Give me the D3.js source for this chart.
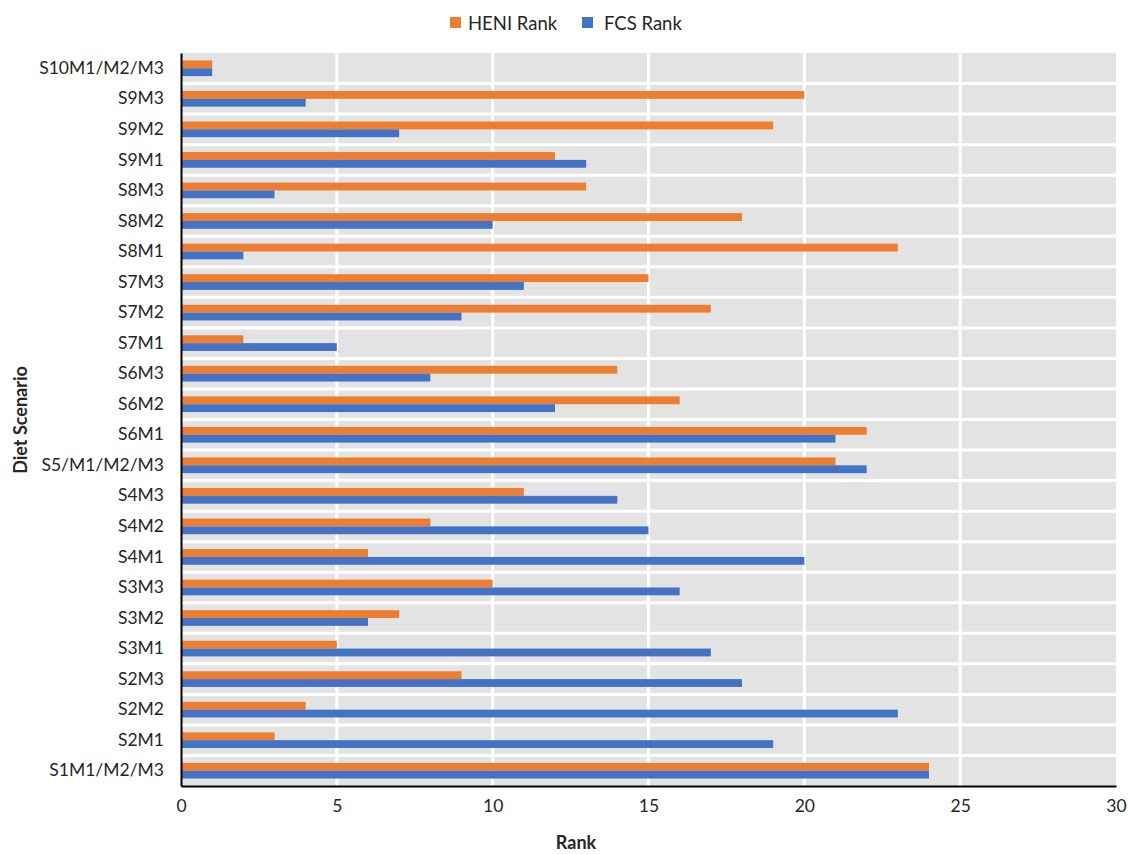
<!DOCTYPE html>
<html><head><meta charset="utf-8">
<script src="https://cdn.jsdelivr.net/npm/d3@7"></script>
<style>body{margin:0;background:#fff}svg{display:block}text{font-family:Lato,"Open Sans",sans-serif;fill:#262626}</style>
</head><body><svg id="c" width="1128" height="854"></svg>
<script>
const categories = ["S10M1/M2/M3","S9M3","S9M2","S9M1","S8M3","S8M2","S8M1","S7M3","S7M2","S7M1","S6M3","S6M2","S6M1","S5/M1/M2/M3","S4M3","S4M2","S4M1","S3M3","S3M2","S3M1","S2M3","S2M2","S2M1","S1M1/M2/M3"];
const heniRank = [1,20,19,12,13,18,23,15,17,2,14,16,22,21,11,8,6,10,7,5,9,4,3,24];
const fcsRank  = [1,4,7,13,3,10,2,11,9,5,8,12,21,22,14,15,20,16,6,17,18,23,19,24];
const seriesNames = ["HENI Rank","FCS Rank"];
const xTicks = [0,5,10,15,20,25,30];

const colors = {"HENI Rank":"#ED7D31","FCS Rank":"#4472C4"};
const svg = d3.select("#c");
const L=181, R=1116, T=53, B=786;
const x = d3.scaleLinear().domain([0,30]).range([L,R]);
const y = d3.scaleBand().domain(categories).range([T,B]).paddingInner(0).paddingOuter(0);
const inner = d3.scaleBand().domain(seriesNames).range([0,y.bandwidth()]).paddingInner(0).paddingOuter(0.95);

svg.append("rect").attr("x",L).attr("y",T).attr("width",R-L).attr("height",B-T).attr("fill","#e3e3e3");
svg.append("g").selectAll("line").data(xTicks.filter(d=>d>0 && d<30)).join("line")
  .attr("x1",d=>x(d)).attr("x2",d=>x(d)).attr("y1",T).attr("y2",B)
  .attr("stroke","#fff").attr("stroke-width",3);
svg.append("g").selectAll("line").data(categories.slice(1)).join("line")
  .attr("x1",L).attr("x2",R).attr("y1",d=>y(d)).attr("y2",d=>y(d))
  .attr("stroke","#fff").attr("stroke-width",3);

const data = categories.map((c,i)=>({c, vals:[{s:"HENI Rank",v:heniRank[i]},{s:"FCS Rank",v:fcsRank[i]}]}));
svg.append("g").selectAll("g").data(data).join("g")
  .attr("transform",d=>`translate(0,${y(d.c)})`)
  .selectAll("rect").data(d=>d.vals).join("rect")
  .attr("x",x(0)).attr("y",d=>inner(d.s)).attr("height",inner.bandwidth())
  .attr("width",d=>x(d.v)-x(0)).attr("fill",d=>colors[d.s]);

const xa = svg.append("g").attr("transform",`translate(0,${B})`)
  .call(d3.axisBottom(x).tickValues(xTicks).tickSize(0).tickPadding(14));
xa.select(".domain").attr("stroke","#000").attr("stroke-width",2);
xa.selectAll("text").attr("font-size",17.5).style("font-family","Lato,sans-serif").attr("fill","#404040");
const ya = svg.append("g").attr("transform",`translate(${L},0)`)
  .call(d3.axisLeft(y).tickSize(0).tickPadding(17));
ya.select(".domain").attr("stroke","#000").attr("stroke-width",2);
ya.selectAll("text").attr("font-size",17.5).style("font-family","Lato,sans-serif").attr("fill","#404040");

svg.append("text").attr("x",576).attr("y",849).attr("text-anchor","middle")
  .attr("font-size",18).attr("font-weight","bold").text("Rank");
svg.append("text").attr("transform",`translate(27,420) rotate(-90)`).attr("text-anchor","middle")
  .attr("font-size",18).attr("font-weight","bold").text("Diet Scenario");

const leg = svg.append("g");
const lx = [450,582];
seriesNames.forEach((s,i)=>{
  leg.append("rect").attr("x",lx[i]).attr("y",17).attr("width",11).attr("height",11).attr("fill",colors[s]);
  leg.append("text").attr("x",lx[i]+(i===0?18:22)).attr("y",29.5).attr("font-size",18.5).attr("fill","#404040").text(s);
});
</script></body></html>
